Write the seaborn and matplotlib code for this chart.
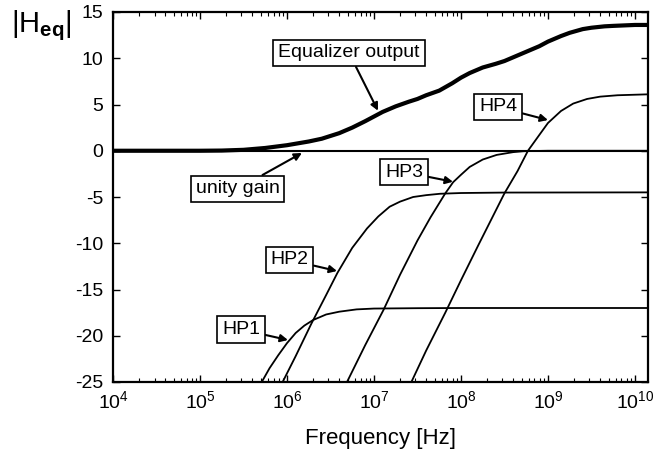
import numpy as np
import pandas as pd
import matplotlib
matplotlib.use("Agg")
import matplotlib.pyplot as plt
import seaborn as sns

# values (log10 of frequency in Hz, |Heq| value)
eq_logf = [4.0, 5.0, 5.25, 5.5, 5.75, 6.0, 6.25, 6.4, 6.5, 6.6, 6.75, 6.9, 7.0,
           7.1, 7.25, 7.4, 7.5, 7.6, 7.75, 7.9, 8.0, 8.1, 8.25, 8.4, 8.5, 8.6,
           8.75, 8.9, 9.0, 9.15, 9.25, 9.4, 9.5, 9.65, 9.75, 10.0, 10.15]
eq_val = [0.0, 0.0, 0.02, 0.1, 0.3, 0.6, 1.0, 1.3, 1.6, 1.9, 2.5, 3.2, 3.7,
          4.2, 4.8, 5.3, 5.6, 6.0, 6.5, 7.3, 7.9, 8.4, 9.0, 9.4, 9.7, 10.1,
          10.7, 11.3, 11.8, 12.4, 12.75, 13.15, 13.3, 13.45, 13.5, 13.6, 13.6]

hp1_logf = [5.71, 5.8, 5.9, 6.0, 6.1, 6.2, 6.3, 6.45, 6.6, 6.8, 7.0, 7.5, 8.0, 10.15]
hp1_val = [-25.0, -23.5, -22.1, -20.8, -19.7, -18.9, -18.3, -17.7, -17.4, -17.15,
           -17.06, -17.02, -17.0, -17.0]

hp2_logf = [5.95, 6.1, 6.28, 6.45, 6.58, 6.75, 6.92, 7.05, 7.18, 7.3, 7.45, 7.6,
            7.76, 8.0, 8.5, 10.15]
hp2_val = [-25.0, -22.2, -18.7, -15.6, -13.2, -10.5, -8.4, -7.1, -6.05, -5.5,
           -5.0, -4.8, -4.65, -4.57, -4.52, -4.5]

hp3_logf = [6.69, 6.9, 7.11, 7.3, 7.5, 7.65, 7.82, 7.91, 8.0, 8.1, 8.25, 8.41,
            8.6, 8.72, 9.0, 10.15]
hp3_val = [-25.0, -21.0, -17.2, -13.4, -9.7, -7.2, -4.6, -3.4, -2.6, -1.75,
           -0.95, -0.45, -0.15, -0.05, 0.0, 0.0]

hp4_logf = [7.43, 7.6, 7.82, 8.0, 8.2, 8.35, 8.5, 8.65, 8.77, 8.9, 9.0, 9.15,
            9.29, 9.45, 9.6, 9.8, 10.15]
hp4_val = [-25.0, -21.6, -17.5, -14.0, -10.2, -7.4, -4.6, -2.2, 0.0, 1.7, 3.0,
           4.3, 5.1, 5.6, 5.85, 6.0, 6.1]

unity_logf = [4.0, 10.15]
unity_val = [0.0, 0.0]

# annotation labels: text, box centre (logf, value), arrow tip (logf, value)
labels = ["Equalizer output", "unity gain", "HP1", "HP2", "HP3", "HP4"]
label_box = [(6.713, 10.57), (5.431, -4.13), (5.471, -19.32), (6.029, -11.81),
             (7.345, -2.3), (8.425, 4.73)]
label_tip = [(7.046, 4.33), (6.172, -0.24), (6.011, -20.46), (6.575, -13.0),
             (7.908, -3.35), (9.0, 3.32)]

yticks = [15, 10, 5, 0, -5, -10, -15, -20, -25]

sns.set_style("ticks", {"text.color": "black", "axes.labelcolor": "black",
                        "xtick.color": "black", "ytick.color": "black",
                        "axes.edgecolor": "black"})
plt.rcParams['font.family'] = ['Liberation Sans', 'DejaVu Sans']
plt.rcParams['mathtext.fontset'] = 'custom'
plt.rcParams['mathtext.rm'] = 'Liberation Sans'
plt.rcParams['mathtext.it'] = 'Liberation Sans:italic'
plt.rcParams['mathtext.bf'] = 'Liberation Sans:bold'
plt.rcParams['axes.unicode_minus'] = False

fig = plt.figure(figsize=(6.68, 4.57), dpi=100)
ax = fig.add_axes([113 / 668, 1 - 382 / 457, 535 / 668, 370 / 457])

curves = [(hp1_logf, hp1_val, 1.3), (hp2_logf, hp2_val, 1.3),
          (hp3_logf, hp3_val, 1.3), (hp4_logf, hp4_val, 1.3),
          (unity_logf, unity_val, 1.5), (eq_logf, eq_val, 3.0)]
for logf, val, lw in curves:
    df = pd.DataFrame({"freq": 10 ** np.array(logf), "val": val})
    sns.lineplot(data=df, x="freq", y="val", ax=ax, color="black", lw=lw,
                 estimator=None, sort=False)

ax.set_xscale("log")
ax.set_xlim(1e4, 10 ** 10.15)
ax.set_ylim(-25, 15)
ax.set_yticks(yticks)
ax.set_xticks([10 ** k for k in range(4, 11)])
ax.xaxis.set_minor_locator(matplotlib.ticker.LogLocator(base=10, subs=np.arange(2, 10)))
ax.xaxis.set_minor_formatter(matplotlib.ticker.NullFormatter())

ax.tick_params(which="both", direction="in", top=True, right=True, colors="black")
ax.tick_params(which="major", length=5, width=1)
ax.tick_params(which="minor", length=3, width=0.8)
ax.tick_params(axis="y", pad=7, labelsize=14)
ax.tick_params(axis="x", pad=6, labelsize=14)
for s in ax.spines.values():
    s.set_linewidth(1.6)
    s.set_color("black")

ax.set_xlabel("Frequency [Hz]", fontsize=16, labelpad=11, color="black")
ax.set_ylabel(r"$|\mathregular{H}_{\mathbf{eq}}|$", rotation=0, fontsize=21,
              color="black")
ax.yaxis.set_label_coords(-0.135, 0.962)
ax.yaxis.label.set_verticalalignment("center")
ax.yaxis.label.set_horizontalalignment("center")

for txt, (bx, by), (tx, ty) in zip(labels, label_box, label_tip):
    ax.annotate(txt, xy=(10 ** tx, ty), xytext=(10 ** bx, by),
                ha="center", va="center", fontsize=14, zorder=5, color="black",
                bbox=dict(boxstyle="square,pad=0.25", fc="white", ec="black", lw=1.2),
                arrowprops=dict(arrowstyle="-|>", color="black", lw=1.5,
                                mutation_scale=11, shrinkA=0, shrinkB=0))

fig.savefig("out.png", dpi=100)
